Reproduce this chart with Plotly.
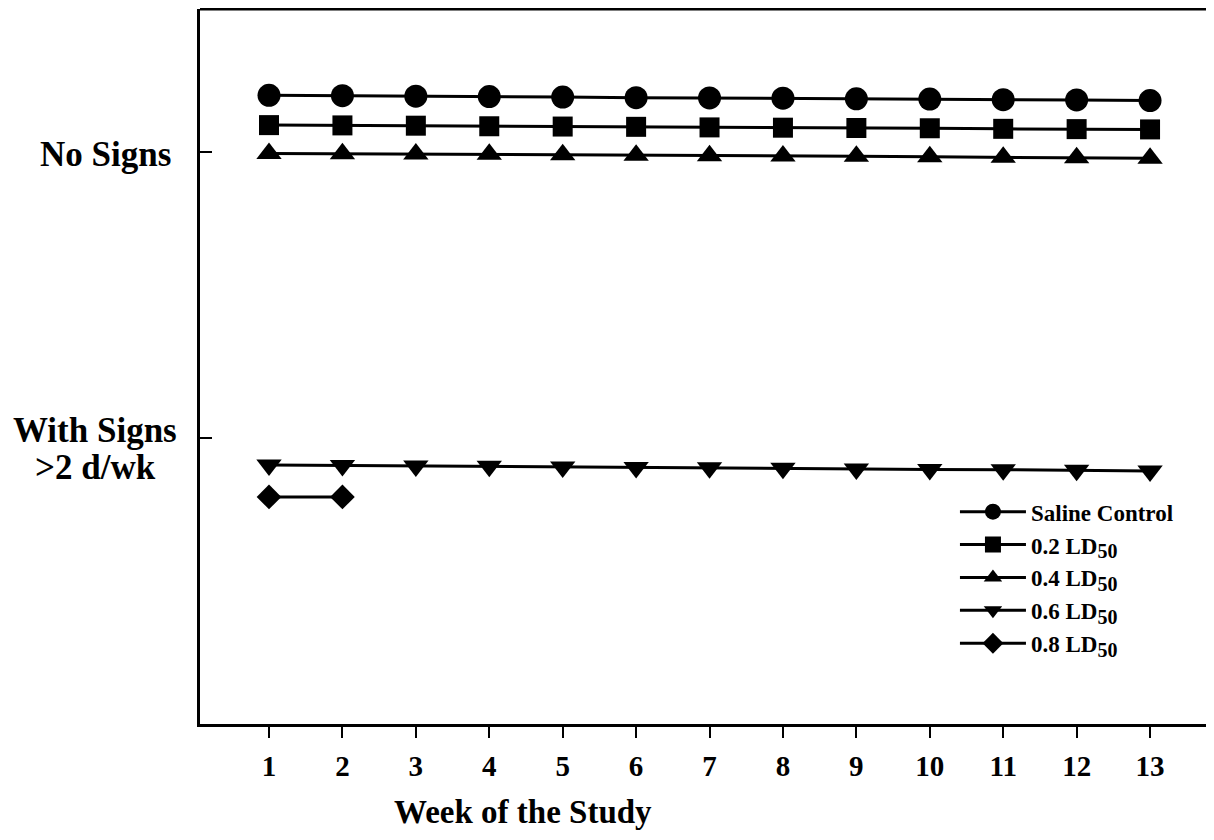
import plotly.graph_objects as go

weeks = list(range(1, 14))
week_labels = [str(w) for w in weeks]

saline = [1.198, 1.197, 1.195, 1.194, 1.192, 1.190, 1.189, 1.188, 1.186, 1.185, 1.183, 1.182, 1.180]
ld02 = [1.094, 1.093, 1.092, 1.090, 1.089, 1.088, 1.086, 1.085, 1.084, 1.083, 1.081, 1.080, 1.079]
ld04 = [0.995, 0.994, 0.993, 0.992, 0.990, 0.989, 0.987, 0.986, 0.985, 0.983, 0.982, 0.980, 0.978]
ld06 = [-0.094, -0.096, -0.098, -0.099, -0.101, -0.103, -0.104, -0.106, -0.108, -0.110, -0.111, -0.113, -0.115]
ld08_weeks = [1, 2]
ld08 = [-0.206, -0.206]

SUB = '<sub><span style="font-size:20px">50</span></sub>'
series_names = ["Saline Control", "0.2 LD" + SUB, "0.4 LD" + SUB,
                "0.6 LD" + SUB, "0.8 LD" + SUB]
y_cats = [0, 1]
y_cat_label_no = "No Signs"
y_cat_label_with = ["With Signs", ">2 d/wk"]

FONT = "Liberation Serif"

fig = go.Figure()
specs = [
    (weeks, saline, "circle", 23),
    (weeks, ld02, "square", 20),
    (weeks, ld04, "triangle-up", 22),
    (weeks, ld06, "triangle-down", 22),
    (ld08_weeks, ld08, "diamond", 19),
]
for (xs, ys, sym, sz), name in zip(specs, series_names):
    fig.add_trace(go.Scatter(
        x=xs, y=ys, name=name, mode="lines+markers",
        line=dict(color="black", width=3),
        marker=dict(symbol=sym, size=sz, color="black"),
    ))

fig.update_layout(
    width=1214, height=840,
    margin=dict(l=192, r=0, t=1, b=124),
    plot_bgcolor="white", paper_bgcolor="white",
    font=dict(family=FONT, color="black", weight="bold"),
    xaxis=dict(
        range=[0.06, 13.98], tickvals=weeks, ticktext=week_labels,
        showgrid=False, zeroline=False,
        showline=True, linecolor="black", linewidth=3,
        ticks="outside", ticklen=11, tickwidth=2, tickcolor="black",
        tickfont=dict(size=29, family=FONT, weight="bold"),
        ticklabelstandoff=3,
    ),
    yaxis=dict(
        range=[-1.0, 1.5], tickvals=y_cats, showticklabels=False,
        showgrid=False, zeroline=False,
        showline=True, linecolor="black", linewidth=3,
        ticks="inside", ticklen=12, tickwidth=2, tickcolor="black",
    ),
    legend=dict(
        x=0.7387, y=0.327, xanchor="left", yanchor="top",
        bgcolor="rgba(0,0,0,0)", font=dict(size=23, family=FONT, weight="bold"),
        tracegroupgap=0, itemwidth=66,
    ),
    showlegend=True,
)

# y category labels
fig.add_annotation(xref="paper", yref="y", x=-0.0264, y=y_cats[1], xanchor="right", yanchor="middle",
                   text=y_cat_label_no, showarrow=False,
                   font=dict(size=35, family=FONT, weight="bold"), yshift=-2)
fig.add_annotation(xref="paper", yref="y", x=-0.1027, y=y_cats[0], xanchor="center", yanchor="middle",
                   text=y_cat_label_with[0], showarrow=False,
                   font=dict(size=35, family=FONT, weight="bold"), yshift=8)
fig.add_annotation(xref="paper", yref="y", x=-0.1027, y=y_cats[0], xanchor="center", yanchor="middle",
                   text=y_cat_label_with[1], showarrow=False,
                   font=dict(size=35, family=FONT, weight="bold"), yshift=-29)
# x axis title
fig.add_annotation(xref="paper", yref="paper", x=0.316, y=-0.123, xanchor="center", yanchor="middle",
                   text="Week of the Study", showarrow=False,
                   font=dict(size=33, family=FONT, weight="bold"))
# top border line
fig.add_shape(type="line", xref="paper", yref="paper", x0=0, x1=1, y0=1, y1=1,
              line=dict(color="black", width=3))

fig.write_html("out.html")
